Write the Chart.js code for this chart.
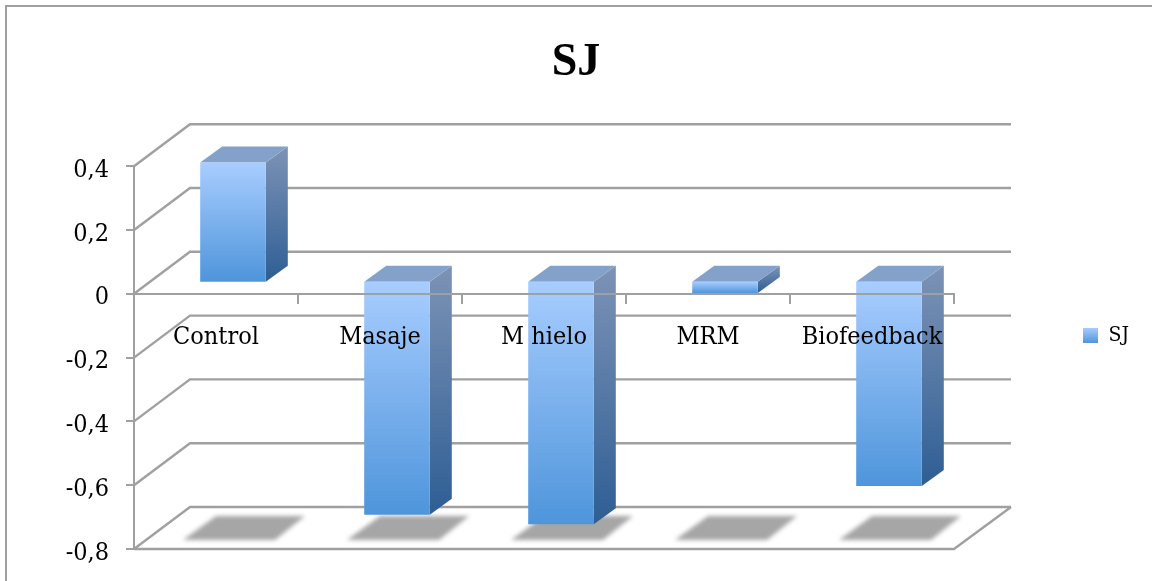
<!DOCTYPE html>
<html><head><meta charset="utf-8">
<style>html,body{margin:0;padding:0;background:#fff}canvas{display:block}</style>
<script src="https://cdn.jsdelivr.net/npm/chart.js@4"></script>
</head><body><canvas id="c" width="1152" height="581"></canvas>
<script>
const categories = ["Control","Masaje","M hielo","MRM","Biofeedback"];
const sjValues = [0.374,-0.73,-0.76,-0.035,-0.64];
const seriesName = "SJ";
const titleText = "SJ";
const yMin = -0.8, yMax = 0.4, yStep = 0.2;

const LINE = '#a0a0a0', FONT = "'DejaVu Serif Condensed','Liberation Serif',serif";
const DEPTH = {x:56, y:42}, SHIFT = {x:17, y:12}, BAR3D = {x:22, y:16};

const threeD = {
  id:'threeD',
  beforeLayout(chart){
    const l = chart.legend;
    if(l && !l._patched){ const f = l.fit; l.fit = function(){ f.call(this); this.width = 198; }; l._patched = true; }
  },
  afterLayout(chart){
    const l = chart.legend;
    if(l){ l.top += 61; l.bottom += 61; }
  },
  beforeDraw(chart){
    const c = chart.ctx; c.save();
    c.strokeStyle = LINE; c.lineWidth = 2;
    c.beginPath(); c.moveTo(6,581); c.lineTo(6,6); c.lineTo(1152,6); c.stroke();
    c.restore();
  },
  beforeDatasetsDraw(chart){
    const c = chart.ctx, {x:xs,y:ys} = chart.scales, a = chart.chartArea;
    c.save(); c.strokeStyle = LINE; c.lineWidth = 2.4; c.lineJoin='miter';
    ys.ticks.forEach(t=>{
      const p = ys.getPixelForValue(t.value);
      c.beginPath(); c.moveTo(a.left,p); c.lineTo(a.left+DEPTH.x,p-DEPTH.y); c.lineTo(a.right+DEPTH.x+1,p-DEPTH.y); c.stroke();
    });
    const b = ys.getPixelForValue(yMin);
    c.beginPath(); c.moveTo(a.left,b); c.lineTo(a.right,b); c.lineTo(a.right+DEPTH.x+1,b-DEPTH.y); c.stroke();
    // floor shadows
    c.fillStyle='#a6a6a6'; c.filter='blur(2px)';
    categories.forEach((_,i)=>{
      const m = xs.getPixelForValue(i);
      c.beginPath(); c.moveTo(m-33,b-9); c.lineTo(m+59,b-9); c.lineTo(m+89,b-33); c.lineTo(m,b-33); c.closePath(); c.fill();
    });
    c.filter='none';
    // bar side and top faces
    const data = chart.getDatasetMeta(0).data;
    data.forEach(e=>{
      const l = e.x-e.width/2+SHIFT.x, r = e.x+e.width/2+SHIFT.x;
      const top = Math.min(e.y,e.base)-SHIFT.y, bot = Math.max(e.y,e.base)-SHIFT.y;
      const g = c.createLinearGradient(0,top-BAR3D.y,0,bot);
      g.addColorStop(0,'#7d93b6'); g.addColorStop(1,'#2e5e94');
      c.fillStyle = g;
      c.beginPath(); c.moveTo(r,top); c.lineTo(r+BAR3D.x,top-BAR3D.y); c.lineTo(r+BAR3D.x,bot-BAR3D.y); c.lineTo(r,bot); c.closePath(); c.fill();
      c.fillStyle = '#84a2c9';
      c.beginPath(); c.moveTo(l,top); c.lineTo(l+BAR3D.x,top-BAR3D.y); c.lineTo(r+BAR3D.x,top-BAR3D.y); c.lineTo(r,top); c.closePath(); c.fill();
    });
    c.restore();
    c.save(); c.translate(SHIFT.x,-SHIFT.y);
  },
  afterDatasetsDraw(chart){ chart.ctx.restore(); }
};

new Chart(document.getElementById('c'),{
  type:'bar',
  plugins:[threeD],
  data:{labels:categories,datasets:[{
    label:seriesName,data:sjValues,clip:false,
    barPercentage:0.4,categoryPercentage:1,borderWidth:0,
    backgroundColor(ctx){
      const ch = ctx.chart;
      if(ctx.type!=='data' || !ch.chartArea) return '#7fb2ec';
      const ys = ch.scales.y, v = ctx.raw;
      const g = ch.ctx.createLinearGradient(0,ys.getPixelForValue(Math.max(v,0)),0,ys.getPixelForValue(Math.min(v,0)));
      g.addColorStop(0,'#a8cdff'); g.addColorStop(1,'#4e95db');
      return g;
    }
  }]},
  options:{
    responsive:false,animation:false,
    layout:{autoPadding:false,padding:{left:0,right:0,top:0,bottom:32}},
    plugins:{
      tooltip:{enabled:false},
      title:{display:true,text:titleText,color:'#000',
        font:{family:'Liberation Serif',size:46,weight:'bold',lineHeight:1.2},
        padding:{top:36,bottom:75}},
      legend:{position:'right',
        labels:{padding:129,boxWidth:15,boxHeight:15,color:'#000',font:{family:FONT,size:21},
          generateLabels(chart){
            const l = Chart.defaults.plugins.legend.labels.generateLabels(chart);
            const g = chart.ctx.createLinearGradient(0,328,0,343);
            g.addColorStop(0,'#a8cdff'); g.addColorStop(1,'#4e95db');
            l.forEach(i=>{i.fillStyle=g;i.strokeStyle='rgba(0,0,0,0)';i.lineWidth=0;});
            return l;
          }}}
    },
    scales:{
      x:{position:{y:0},offset:true,
        grid:{offset:true,drawOnChartArea:false,drawTicks:true,tickLength:9,color:LINE,lineWidth:2,z:1},
        border:{color:LINE,width:2,z:1},
        ticks:{z:1,maxRotation:0,autoSkip:false,padding:20,color:'#000',font:{family:FONT,size:25}}
      },
      y:{min:yMin,max:yMax,
        afterFit(s){s.width=134;},
        grid:{drawOnChartArea:false,tickLength:8,color:LINE,lineWidth:2},
        border:{color:LINE,width:2},
        ticks:{stepSize:yStep,padding:17,labelOffset:4,color:'#000',font:{family:FONT,size:25},
          callback(v){return Math.abs(v)<1e-9?'0':v.toFixed(1).replace('.',',');}}
      }
    }
  }
});
</script></body></html>
